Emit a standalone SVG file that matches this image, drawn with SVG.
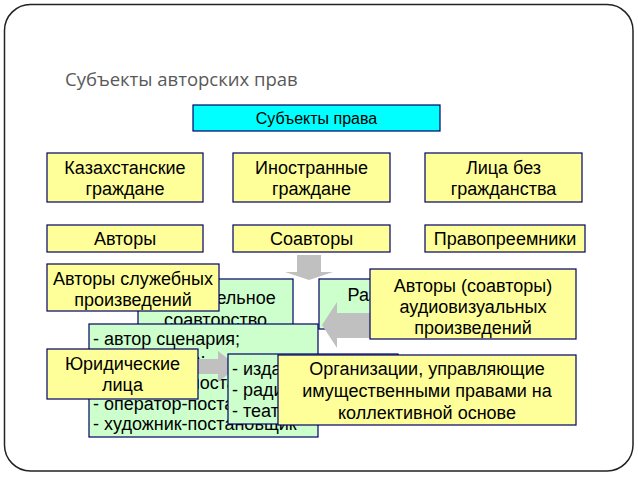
<svg xmlns="http://www.w3.org/2000/svg" width="638" height="479" viewBox="0 0 638 479">
<defs>
<style>
.t{font-family:"Liberation Sans",Arial,sans-serif;font-size:18px;fill:#000;text-anchor:middle}
.l{font-family:"Liberation Sans",Arial,sans-serif;font-size:18px;fill:#000}
.y{fill:#FFFF99;stroke:#000066;stroke-width:1.2}
.g{fill:#CCFFCC;stroke:#000066;stroke-width:1.2}
.c{fill:#00FFFF;stroke:#000066;stroke-width:1.2}
.a{fill:#C0C0C0}
</style>
</defs>
<rect x="0" y="0" width="638" height="479" fill="#fff"/>
<rect x="4.5" y="4.5" width="628.5" height="466.5" rx="26" ry="26" fill="#fff" stroke="#222" stroke-width="1.5"/>
<text x="65" y="86" style="font-family:'Open Sans','Liberation Sans',sans-serif;font-size:18.5px;fill:#595959">Субъекты авторских прав</text>

<g id="subjects"><rect class="c" x="193" y="105" width="247" height="26"/><text class="t" x="316.5" y="124" style="font-size:16px">Субъекты права</text></g>

<g id="kz"><rect class="y" x="47" y="153" width="156" height="49"/><text class="t" x="125" y="174">Казахстанские</text><text class="t" x="125" y="195">граждане</text></g>
<g id="foreign"><rect class="y" x="233" y="153" width="157" height="49"/><text class="t" x="311.5" y="174">Иностранные</text><text class="t" x="311.5" y="195">граждане</text></g>
<g id="stateless"><rect class="y" x="425" y="153" width="157" height="49"/><text class="t" x="503.5" y="174">Лица без</text><text class="t" x="503.5" y="195">гражданства</text></g>

<g id="authors"><rect class="y" x="47" y="225" width="156" height="27"/><text class="t" x="125" y="245">Авторы</text></g>
<g id="coauthors"><rect class="y" x="233" y="225" width="157" height="27"/><text class="t" x="311.5" y="245">Соавторы</text></g>
<g id="successors"><rect class="y" x="425" y="225" width="160" height="27"/><text class="t" x="505" y="245">Правопреемники</text></g>

<g id="connectors">
<polygon class="a" points="297,255 321,255 321,272 333,272 309,280 285,272 297,272"/>
</g>

<g id="joint"><rect class="g" x="138" y="279" width="155" height="48"/><text class="t" x="215.5" y="304">Нераздельное</text><text class="t" x="215.5" y="326">соавторство</text></g>
<g id="separate"><rect class="g" x="319" y="279" width="152" height="50"/><text class="t" x="397" y="301">Раздельное</text><text class="t" x="397" y="323">соавторство</text></g>

<g id="connectors2">
<polygon class="a" points="322,325 337,302 337,313 390,313 390,338 337,338 337,348"/>
</g>

<g id="av"><rect class="y" x="370" y="269" width="206" height="70"/><text class="t" x="473" y="292">Авторы (соавторы)</text><text class="t" x="473" y="313">аудиовизуальных</text><text class="t" x="473" y="334">произведений</text></g>
<g id="service"><rect class="y" x="47" y="264" width="172" height="47"/><text class="t" x="133" y="285">Авторы служебных</text><text class="t" x="133" y="306">произведений</text></g>

<g id="list"><rect class="g" x="89" y="324" width="229" height="113"/>
<text class="l" x="93" y="345">- автор сценария;</text>
<text class="l" x="93" y="366">- композитор;</text>
<text class="l" x="93" y="389">- режиссер-постановщик</text>
<text class="l" x="93" y="409.5">- оператор-постановщик</text>
<text class="l" x="93" y="430">- художник-постановщик</text>
</g>

<g id="connectors3">
<polygon class="a" points="150,359 218,359 218,351 238,366.5 218,382 218,374 150,374"/>
</g>

<g id="legal"><rect class="y" x="47" y="349" width="151" height="50"/><text class="t" x="122.5" y="370">Юридические</text><text class="t" x="122.5" y="391">лица</text></g>
<g id="orgs2"><rect class="g" x="228" y="354" width="170" height="70"/>
<text class="l" x="232" y="375">- издательства;</text>
<text class="l" x="232" y="396">- радио и телевидение;</text>
<text class="l" x="232" y="417">- театры</text>
</g>
<g id="collective"><rect class="y" x="278" y="355" width="298" height="70"/><text class="t" x="427" y="375">Организации, управляющие</text><text class="t" x="427" y="397">имущественными правами на</text><text class="t" x="427" y="419">коллективной основе</text></g>
</svg>
